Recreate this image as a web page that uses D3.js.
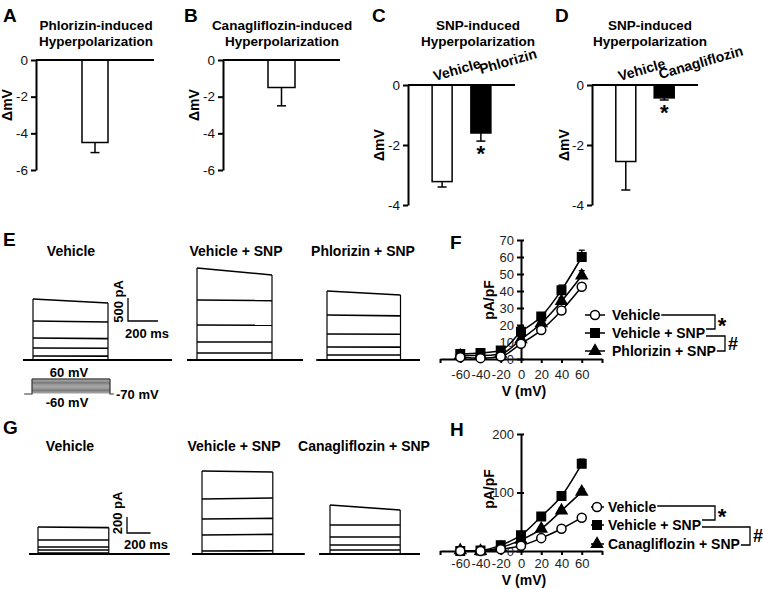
<!DOCTYPE html>
<html><head><meta charset="utf-8">
<script src="https://cdn.jsdelivr.net/npm/d3@7"></script>
<style>body{margin:0;background:#fff}svg{display:block;font-family:"Liberation Sans",Arial,sans-serif}</style>
</head><body><svg id="c" width="763" height="589"></svg>
<script>
// ---------------- DATA ----------------
// Panels A-D: membrane potential change (mV)
const titleA = ["Phlorizin-induced", "Hyperpolarization"];
const titleB = ["Canagliflozin-induced", "Hyperpolarization"];
const titleCD = ["SNP-induced", "Hyperpolarization"];
const catsA = ["Phlorizin"];        const valsA = [-4.5];         const errA = [0.55];
const catsB = ["Canagliflozin"];    const valsB = [-1.5];         const errB = [1.0];
const catsC = ["Vehicle", "Phlorizin"];     const valsC = [-3.22, -1.6];  const errC = [0.18, 0.27];
const catsD = ["Vehicle", "Canagliflozin"]; const valsD = [-2.55, -0.43]; const errD = [0.95, 0.07];
const sigC = [false, true];
const sigD = [false, true];
const ticksAB = [0, -2, -4, -6];
const ticksCD = [0, -2, -4];

// Panels E & G: current traces, pA at start / end of each voltage step
const eLabels = ["Vehicle", "Vehicle + SNP", "Phlorizin + SNP"];
const eVehStart = [1326, 848, 478, 261, 87],  eVehEnd = [1239, 826, 465, 255, 85];
const eSnpStart = [2000, 1304, 761, 391, 152], eSnpEnd = [1848, 1290, 755, 391, 152];
const ePhlStart = [1500, 978, 565, 283, 109],  ePhlEnd = [1413, 960, 560, 280, 109];
const gLabels = ["Vehicle", "Vehicle + SNP", "Canagliflozin + SNP"];
const gVehStart = [338, 175, 88, 50, 12],   gVehEnd = [330, 175, 88, 50, 12];
const gSnpStart = [1038, 688, 438, 238, 38], gSnpEnd = [1025, 700, 445, 245, 40];
const gCanStart = [612, 362, 212, 112, 50],  gCanEnd = [550, 362, 212, 112, 50];
const protocolSteps = [-60, -50, -40, -30, -20, -10, 0, 10, 20, 30, 40, 50, 60];
const holdingV = -70;

// Panels F & H: I-V relationships (pA/pF)
const ivVolt = [-60, -40, -20, 0, 20, 40, 60];
const fVeh = [1, 0.5, 1.5, 9, 17, 28.5, 42.5], fVehErr = [0.5, 0.5, 0.5, 1, 1, 1.5, 2];
const fSnp = [3, 3.5, 5, 16, 25, 40.5, 60],   fSnpErr = [1, 1, 1, 3, 2, 3, 4];
const fPhl = [2, 2, 3, 11.5, 21, 34, 49],      fPhlErr = [1, 1, 1, 2, 2, 2, 3];
const hVeh = [0, 0, 3, 9, 22, 38, 57],         hVehErr = [0, 0, 1, 2, 2, 3, 3];
const hSnp = [0, 1, 10, 27, 59, 94, 149],      hSnpErr = [0, 1, 2, 4, 4, 5, 8];
const hCan = [1, 0, 6, 19, 38, 69, 101],       hCanErr = [1, 1, 1, 2, 3, 4, 5];
const fYTicks = [0, 10, 20, 30, 40, 50, 60, 70];
const hYTicks = [0, 100, 200];
const ivXTicks = [-80, -60, -40, -20, 0, 20, 40, 60, 80];
const ivXLabels = [-60, -40, -20, 0, 20, 40, 60];
const fLegend = ["Vehicle", "Vehicle + SNP", "Phlorizin + SNP"];
const hLegend = ["Vehicle", "Vehicle + SNP", "Canagliflozin + SNP"];

// ---------------- DRAWING ----------------
const svg = d3.select("#c");
function txt(g, x, y, s, o = {}) {
  const t = g.append("text").attr("x", x).attr("y", y).text(s)
    .attr("font-size", o.size || 14)
    .attr("font-weight", o.bold === false ? "normal" : "bold")
    .attr("text-anchor", o.anchor || "start").attr("fill", "#000");
  if (o.rotate != null) t.attr("transform", `rotate(${o.rotate},${x},${y})`);
  return t;
}

// ----- Bar panels -----
function barPanel(p) {
  const g = svg.append("g");
  const y = d3.scaleLinear().domain([p.yMin, 0]).range([p.yBottom, p.yTop]);
  const x = d3.scalePoint().domain(p.cats).range([p.axisX, p.axisEnd]).padding(p.pad);
  txt(g, p.letterX, 22, p.letter, {size: 19});
  p.title.forEach((t, i) => txt(g, p.titleX, [30, 46][i], t, {size: 13.5, anchor: "middle"}));
  txt(g, p.ylabX, p.ylabY, "\u0394mV", {size: 14, anchor: "middle", rotate: -90});
  g.selectAll("rect.bar").data(p.vals).join("rect").attr("class", "bar")
    .attr("x", (d, i) => x(p.cats[i]) - p.barW / 2).attr("width", p.barW)
    .attr("y", y(0)).attr("height", d => y(d) - y(0))
    .attr("fill", (d, i) => p.fills[i]).attr("stroke", "#000").attr("stroke-width", 1.5);
  p.vals.forEach((v, i) => {
    const cx = x(p.cats[i]), y1 = y(v), y2 = y(v - p.errs[i]);
    g.append("line").attr("x1", cx).attr("x2", cx).attr("y1", y1).attr("y2", y2).attr("stroke", "#000").attr("stroke-width", 1.5);
    g.append("line").attr("x1", cx - 4.5).attr("x2", cx + 4.5).attr("y1", y2).attr("y2", y2).attr("stroke", "#000").attr("stroke-width", 1.5);
    if (p.sig && p.sig[i]) txt(g, cx, y2 + 20, "*", {size: 22, anchor: "middle"});
    if (p.catLab) txt(g, p.catLab[i][0] + cx, p.catLab[i][1], p.cats[i], {size: 14, rotate: p.catRot});
  });
  const ax = g.append("g").attr("transform", `translate(${p.axisX},0)`)
    .call(d3.axisLeft(y).tickValues(p.ticks).tickSize(5).tickSizeOuter(0).tickPadding(3).tickFormat(d => String(d)));
  ax.selectAll("path,line").attr("stroke", "#000").attr("stroke-width", 2);
  ax.selectAll("text").attr("font-size", 13.5).attr("fill", "#111").attr("font-family", "Liberation Sans, Arial, sans-serif");
  g.append("line").attr("x1", p.axisX).attr("x2", p.axisEnd).attr("y1", y(0)).attr("y2", y(0)).attr("stroke", "#000").attr("stroke-width", 2);
}
barPanel({letter: "A", letterX: 3, title: titleA, titleX: 96, axisX: 36, axisEnd: 154, yTop: 60, yBottom: 170, yMin: -6,
  ticks: ticksAB, cats: catsA, vals: valsA, errs: errA, fills: ["#fff"], barW: 26, pad: 0.5, ylabX: 12, ylabY: 105});
barPanel({letter: "B", letterX: 184, title: titleB, titleX: 282, axisX: 223, axisEnd: 340, yTop: 60, yBottom: 170, yMin: -6,
  ticks: ticksAB, cats: catsB, vals: valsB, errs: errB, fills: ["#fff"], barW: 27, pad: 0.5, ylabX: 199, ylabY: 105});
barPanel({letter: "C", letterX: 372, title: titleCD, titleX: 478, axisX: 408, axisEnd: 515, yTop: 85, yBottom: 205, yMin: -4,
  ticks: ticksCD, cats: catsC, vals: valsC, errs: errC, fills: ["#fff", "#000"], barW: 20, pad: 0.88, sig: sigC,
  catLab: [[-7, 81], [0, 74]], catRot: -16, ylabX: 384, ylabY: 145});
barPanel({letter: "D", letterX: 555, title: titleCD, titleX: 650, axisX: 592, axisEnd: 698, yTop: 85, yBottom: 205, yMin: -4,
  ticks: ticksCD, cats: catsD, vals: valsD, errs: errD, fills: ["#fff", "#000"], barW: 20, pad: 0.88, sig: sigD,
  catLab: [[-6, 81], [-4, 79]], catRot: -16, ylabX: 569, ylabY: 145});

// ----- Trace panels -----
function traces(p) {
  const g = svg.append("g");
  const x = d3.scaleLinear().domain([0, p.pulse]).range([p.x0, p.x0 + p.pulse * p.pxMs]);
  const y = d3.scaleLinear().domain([0, 1000]).range([p.base, p.base - 1000 * p.pxPA]);
  g.append("line").attr("x1", x(-p.pre)).attr("x2", Math.min(x(p.pulse + p.post), 420)).attr("y1", y(0)).attr("y2", y(0))
    .attr("stroke", "#000").attr("stroke-width", 2.2);
  const line = d3.line().x(d => x(d[0])).y(d => y(d[1]));
  p.start.forEach((s, i) => {
    g.append("path").attr("d", line([[0, s], [p.pulse, p.end[i]]])).attr("fill", "none")
      .attr("stroke", "#000").attr("stroke-width", 1.6);
  });
  g.append("line").attr("x1", x(0)).attr("x2", x(0)).attr("y1", y(0)).attr("y2", y(p.start[0])).attr("stroke", "#000").attr("stroke-width", 1.2);
  g.append("line").attr("x1", x(p.pulse)).attr("x2", x(p.pulse)).attr("y1", y(0)).attr("y2", y(p.end[0])).attr("stroke", "#000").attr("stroke-width", 1.2);
  txt(g, p.labX, p.labY, p.label, {size: 14, anchor: "middle"});
  if (p.bar) {
    const b = p.bar;
    g.append("path").attr("d", `M${b.x},${b.y - b.pA * p.pxPA}V${b.y}H${b.x + b.ms * p.pxMs}`)
      .attr("fill", "none").attr("stroke", "#000").attr("stroke-width", 1.3);
    txt(g, b.x - 5, b.y - b.pA * p.pxPA / 2 + b.vOff, b.pA + " pA", {size: 13, anchor: "middle", rotate: -90});
    txt(g, b.x - 3, b.y + b.hOff, b.ms + " ms", {size: 13});
  }
}
traces({x0: 33, pxMs: 0.15, pulse: 500, pre: 67, post: 427, base: 360, pxPA: 0.046, start: eVehStart, end: eVehEnd,
  label: eLabels[0], labX: 71, labY: 256, bar: {x: 128, y: 321, pA: 500, ms: 200, vOff: -8, hOff: 17}});
traces({x0: 197, pxMs: 0.15, pulse: 500, pre: 67, post: 207, base: 360, pxPA: 0.046, start: eSnpStart, end: eSnpEnd,
  label: eLabels[1], labX: 236, labY: 256});
traces({x0: 327, pxMs: 0.147, pulse: 500, pre: 73, post: 140, base: 360, pxPA: 0.046, start: ePhlStart, end: ePhlEnd,
  label: eLabels[2], labX: 363, labY: 256});
traces({x0: 38, pxMs: 0.118, pulse: 600, pre: 76, post: 517, base: 554, pxPA: 0.08, start: gVehStart, end: gVehEnd,
  label: gLabels[0], labX: 70, labY: 451, bar: {x: 127, y: 533, pA: 200, ms: 200, vOff: -12, hOff: 16}});
traces({x0: 202, pxMs: 0.118, pulse: 600, pre: 85, post: 271, base: 554, pxPA: 0.08, start: gSnpStart, end: gSnpEnd,
  label: gLabels[1], labX: 234, labY: 451});
traces({x0: 330, pxMs: 0.117, pulse: 600, pre: 93, post: 170, base: 554, pxPA: 0.08, start: gCanStart, end: gCanEnd,
  label: gLabels[2], labX: 364, labY: 451});
txt(svg, 3, 246, "E", {size: 19});
txt(svg, 3, 434, "G", {size: 19});

// voltage protocol
(function () {
  const g = svg.append("g");
  const x = d3.scaleLinear().domain([0, 500]).range([32, 110]);
  const v = d3.scaleLinear().domain([holdingV, 60]).range([394, 379]);
  protocolSteps.forEach(s => g.append("line").attr("x1", x(0)).attr("x2", x(500)).attr("y1", v(s)).attr("y2", v(s))
    .attr("stroke", s === 60 ? "#000" : "#777").attr("stroke-width", 1));
  g.append("path").attr("d", `M${x(-50)},${v(holdingV)}H${x(0)}V${v(60)}M${x(500)},${v(60)}V${v(holdingV)}H${x(525)}`)
    .attr("fill", "none").attr("stroke", "#333").attr("stroke-width", 1.2);
  txt(g, 69, 377, "60 mV", {size: 13, anchor: "middle"});
  txt(g, 67, 407, "-60 mV", {size: 13, anchor: "middle"});
  txt(g, 116, 399, "-70 mV", {size: 13});
})();

// ----- IV panels -----
function ivPanel(p) {
  const g = svg.append("g");
  const x = d3.scaleLinear().domain([-80, 80]).range([440, 602]);
  const y = d3.scaleLinear().domain([0, p.yMax]).range([p.y0, p.yTop]);
  txt(g, 450, p.letterY, p.letter, {size: 19});
  const ax = g.append("g").attr("transform", `translate(0,${y(0)})`)
    .call(d3.axisBottom(x).tickValues(ivXTicks).tickSize(4).tickSizeOuter(0).tickPadding(p.xPad)
      .tickFormat(d => ivXLabels.includes(d) ? String(d) : ""));
  const ay = g.append("g").attr("transform", `translate(${x(0)},0)`)
    .call(d3.axisLeft(y).tickValues(p.yTicks).tickSize(4).tickSizeOuter(0).tickPadding(3).tickFormat(d => String(d)));
  ay.selectAll(".tick line").attr("x1", 3);
  [ax, ay].forEach(a => {
    a.selectAll("path,line").attr("stroke", "#000").attr("stroke-width", 2);
    a.selectAll("text").attr("font-size", 13).attr("fill", "#222").attr("font-family", "Liberation Sans, Arial, sans-serif");
  });
  txt(g, x(0) + 3, y(0) + p.vlabOff, "V (mV)", {size: 14, anchor: "middle"});
  txt(g, 494, p.ylabY, "pA/pF", {size: 14, anchor: "middle", rotate: -90});
  const line = d3.line().x((d, i) => x(ivVolt[i])).y(d => y(d)).curve(d3.curveMonotoneX);
  const sym = {
    circle: d3.symbol(d3.symbolCircle, 64), square: d3.symbol(d3.symbolSquare, 72), tri: d3.symbol(d3.symbolTriangle, 52)
  };
  function marker(gg, type, cx, cy) {
    gg.append("path").attr("d", sym[type]()).attr("transform", `translate(${cx},${cy})`)
      .attr("fill", type === "circle" ? "#fff" : "#000").attr("stroke", "#000").attr("stroke-width", 1.5);
  }
  p.series.forEach(s => g.append("path").attr("d", line(s.vals)).attr("fill", "none").attr("stroke", "#000").attr("stroke-width", 1.5));
  p.series.forEach(s => {
    s.vals.forEach((v, i) => {
      if (s.err[i] > 0) {
        const cx = x(ivVolt[i]), yt = y(v + s.err[i]);
        g.append("line").attr("x1", cx).attr("x2", cx).attr("y1", y(v)).attr("y2", yt).attr("stroke", "#000").attr("stroke-width", 1.3);
        g.append("line").attr("x1", cx - 3).attr("x2", cx + 3).attr("y1", yt).attr("y2", yt).attr("stroke", "#000").attr("stroke-width", 1.3);
      }
    });
    s.vals.forEach((v, i) => marker(g, s.type, x(ivVolt[i]), y(v)));
  });
  // legend
  const L = p.leg, ends = [];
  L.names.forEach((n, i) => {
    const ry = L.rows[i];
    g.append("line").attr("x1", L.lx[0]).attr("x2", L.lx[1]).attr("y1", ry).attr("y2", ry).attr("stroke", "#000").attr("stroke-width", 1.5);
    marker(g, L.types[i], L.mx, ry);
    const t = txt(g, L.tx, ry + 5, n, {size: 14});
    ends.push(L.tx + t.node().getComputedTextLength() + 1);
  });
  const br = (pts) => g.append("path").attr("d", d3.line()(pts)).attr("fill", "none").attr("stroke", "#000").attr("stroke-width", 1.3);
  const b = L.br;
  br([[ends[0], b[0].yTop], [b[0].x, b[0].yTop], [b[0].x, b[0].yBot], [ends[1], b[0].yBot]]);
  br([[ends[1], b[1].yTop], [b[1].x, b[1].yTop], [b[1].x, b[1].yBot], [ends[2], b[1].yBot]]);
  txt(g, b[0].x + 7, (b[0].yTop + b[0].yBot) / 2 + 11, "*", {size: 22, anchor: "middle"});
  txt(g, b[1].x + 8, (b[1].yTop + b[1].yBot) / 2 + 6, "#", {size: 18, anchor: "middle"});
}
ivPanel({letter: "F", letterY: 249, yMax: 70, y0: 359, yTop: 240, yTicks: fYTicks, ylabY: 300, xPad: 7, vlabOff: 37,
  series: [{vals: fSnp, err: fSnpErr, type: "square"}, {vals: fPhl, err: fPhlErr, type: "tri"}, {vals: fVeh, err: fVehErr, type: "circle"}],
  leg: {names: fLegend, types: ["circle", "square", "tri"], rows: [315, 333, 351], lx: [585, 605], mx: 595, tx: 612,
    br: [{x: 715, yTop: 315, yBot: 329}, {x: 725, yTop: 336, yBot: 351}]}});
ivPanel({letter: "H", letterY: 436, yMax: 200, y0: 551, yTop: 434, yTicks: hYTicks, ylabY: 489, xPad: 4, vlabOff: 34,
  series: [{vals: hSnp, err: hSnpErr, type: "square"}, {vals: hCan, err: hCanErr, type: "tri"}, {vals: hVeh, err: hVehErr, type: "circle"}],
  leg: {names: hLegend, types: ["circle", "square", "tri"], rows: [507, 525, 544], lx: [591, 604], mx: 597, tx: 608,
    br: [{x: 715, yTop: 506, yBot: 520}, {x: 750, yTop: 527, yBot: 545}]}});
</script></body></html>
